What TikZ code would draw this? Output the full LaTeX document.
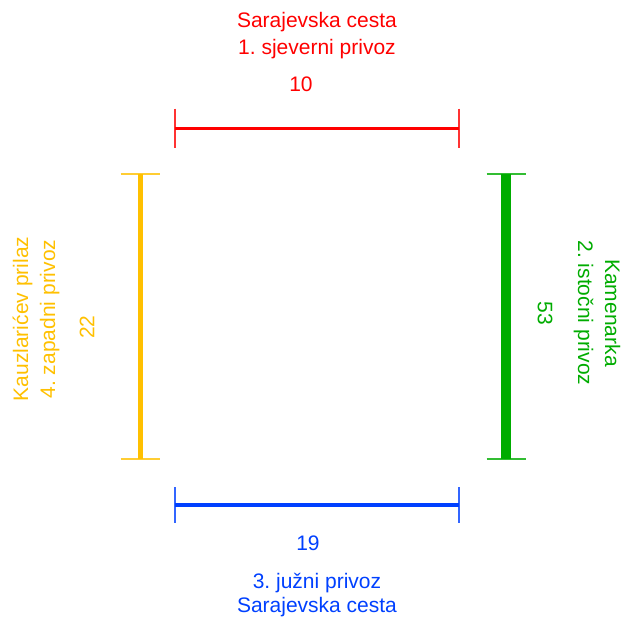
\documentclass[tikz,border=0pt]{standalone}
\usepackage{fontspec}
\setmainfont{Liberation Sans}
\usepackage{tikz}
\usetikzlibrary{arrows.meta}
\frenchspacing

\definecolor{cred}{RGB}{255,0,0}
\definecolor{cyellow}{RGB}{255,192,0}
\definecolor{cgreen}{RGB}{0,172,0}
\definecolor{cblue}{RGB}{0,64,255}

\begin{document}
\begin{tikzpicture}[x=1pt,y=-1pt]
    \tikzstyle{lbl}=[font=\fontsize{21}{27}\selectfont,align=center,inner sep=0pt]
    \tikzstyle{tick}=[line width=1.2pt,opacity=0.8]
    \useasboundingbox (0,0) rectangle (622,619);
    % 1. sjeverni privoz
    \coordinate (n_1) at (175,128);
    \coordinate (n_2) at (459,128);
    \draw[cred,line width=3pt] (n_1) -- (n_2);
    \draw[cred,tick] (n_1) ++(0,-19.5) -- ++(0,39);
    \draw[cred,tick] (n_2) ++(0,-19.5) -- ++(0,39);
    \node[lbl,text=cred] (n_name) at (317,36) {Sarajevska cesta\\1. sjeverni privoz};
    \node[lbl,text=cred] (n_val) at (301,84.5) {10};
    % 2. istocni privoz
    \coordinate (e_1) at (506,174);
    \coordinate (e_2) at (506,459);
    \draw[cgreen,line width=10pt] (e_1) -- (e_2);
    \draw[cgreen,tick] (e_1) ++(-19.5,0) -- ++(39,0);
    \draw[cgreen,tick] (e_2) ++(-19.5,0) -- ++(39,0);
    \node[lbl,text=cgreen,rotate=-90] (e_name) at (597,313) {Kamenarka\\2. istočni privoz};
    \node[lbl,text=cgreen,rotate=-90] (e_val) at (545,313) {53};
    % 3. juzni privoz
    \coordinate (s_1) at (175,505);
    \coordinate (s_2) at (459,505);
    \draw[cblue,line width=4.5pt] (s_1) -- (s_2);
    \draw[cblue,tick] (s_1) ++(0,-18) -- ++(0,36);
    \draw[cblue,tick] (s_2) ++(0,-18) -- ++(0,36);
    \node[lbl,text=cblue] (s_val) at (308,543) {19};
    \node[lbl,text=cblue,font=\fontsize{21}{24}\selectfont] (s_name) at (317,595.5) {3. južni privoz\\Sarajevska cesta};
    % 4. zapadni privoz
    \coordinate (w_1) at (140,174);
    \coordinate (w_2) at (140,459);
    \draw[cyellow,line width=5pt] (w_1) -- (w_2);
    \draw[cyellow,tick] (w_1) ++(-19.5,0) -- ++(39,0);
    \draw[cyellow,tick] (w_2) ++(-19.5,0) -- ++(39,0);
    \node[lbl,text=cyellow,rotate=90] (w_name) at (36,319) {Kauzlarićev prilaz\\4. zapadni privoz};
    \node[lbl,text=cyellow,rotate=90] (w_val) at (87,327) {22};
\end{tikzpicture}
\end{document}
